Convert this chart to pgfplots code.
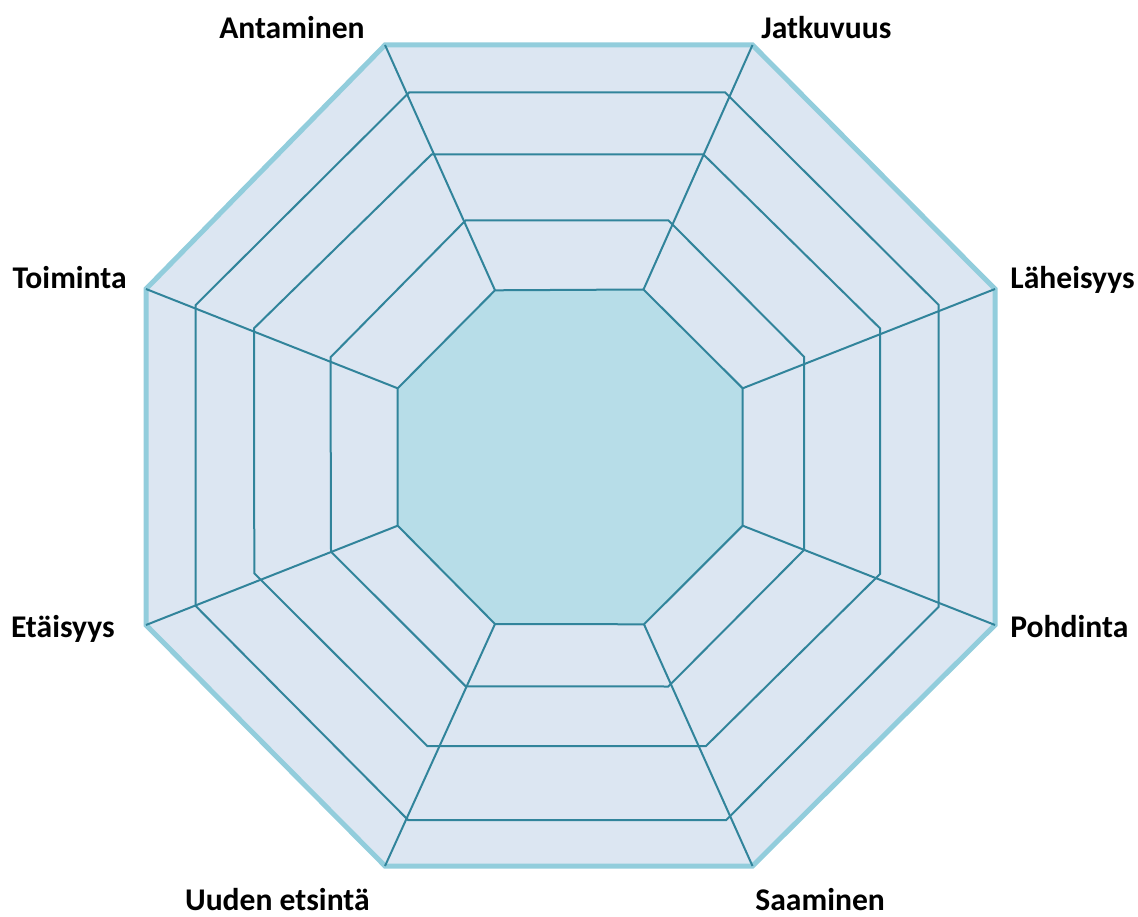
\documentclass[border=0pt]{standalone}
\usepackage{pgfplots}
\pgfplotsset{compat=1.18}
\usepackage{fontspec}
\setmainfont{Carlito}
\definecolor{outerfill}{HTML}{DCE6F2}
\definecolor{outerline}{HTML}{92CDDC}
\definecolor{innerfill}{HTML}{B7DDE8}
\definecolor{gridc}{HTML}{31849B}
\tikzset{lbl/.style={font=\bfseries\fontsize{15.8}{18}\selectfont, inner sep=0pt}}
\begin{document}
\begin{tikzpicture}
\begin{axis}[scale only axis, width=569pt, height=458pt,
  xmin=0, xmax=1138, ymin=-916, ymax=0, hide axis, clip=false,
  every axis plot/.append style={mark=none}]
\path (axis cs:0,0) -- (axis cs:1138,-916);
% outer octagon
\addplot[fill=outerfill, draw=outerline, line width=2.5pt, line join=miter] coordinates {
 (385,-45) (752.5,-45) (995,-289) (995,-625) (752.5,-866) (385,-866) (146,-625) (146,-289)} --cycle;
% inner filled octagon
\addplot[fill=innerfill, draw=gridc, line width=1pt, line join=miter] coordinates {
 (495,-290.3) (643.5,-289.5) (742.7,-388.3) (742.7,-525.7) (644,-624.3) (495,-624) (397.7,-525.7) (397.7,-388.3)} --cycle;
% ring 1
\addplot[draw=gridc, line width=1pt, line join=miter] coordinates {
 (409.3,-92.3) (725,-92.3) (938.7,-305) (938.7,-606.7) (726,-820.2) (408.3,-820.2) (195.7,-606) (195.7,-305)} --cycle;
% ring 2
\addplot[draw=gridc, line width=1pt, line join=miter] coordinates {
 (431.7,-154.3) (703.3,-154.3) (880,-328.3) (880,-574) (706,-746) (427.3,-746) (254.3,-573.3) (254,-328.3)} --cycle;
% ring 3
\addplot[draw=gridc, line width=1pt, line join=miter] coordinates {
 (465.7,-220.3) (668.3,-220.3) (804,-356.7) (804,-550) (668.3,-686.5) (465.7,-686.3) (331,-551.7) (330.5,-357.3)} --cycle;
% spokes
\addplot[draw=gridc, line width=1pt] coordinates {(495,-290.3) (385,-45)};
\addplot[draw=gridc, line width=1pt] coordinates {(643.5,-289.5) (752.5,-45)};
\addplot[draw=gridc, line width=1pt] coordinates {(742.7,-388.3) (995,-289)};
\addplot[draw=gridc, line width=1pt] coordinates {(742.7,-525.7) (995,-625)};
\addplot[draw=gridc, line width=1pt] coordinates {(644,-624.3) (752.5,-866)};
\addplot[draw=gridc, line width=1pt] coordinates {(495,-624) (385,-866)};
\addplot[draw=gridc, line width=1pt] coordinates {(397.7,-525.7) (146,-625)};
\addplot[draw=gridc, line width=1pt] coordinates {(397.7,-388.3) (146,-289)};
% labels
\node[lbl, anchor=base east] at (axis cs:365,-39) {Antaminen};
\node[lbl, anchor=base west] at (axis cs:761,-39) {Jatkuvuus};
\node[lbl, anchor=base east] at (axis cs:127,-289) {Toiminta};
\node[lbl, anchor=base west] at (axis cs:1010,-289) {Läheisyys};
\node[lbl, anchor=base east] at (axis cs:115,-637) {Etäisyys};
\node[lbl, anchor=base west] at (axis cs:1010,-637) {Pohdinta};
\node[lbl, anchor=base east] at (axis cs:370,-910) {Uuden etsintä};
\node[lbl, anchor=base west] at (axis cs:755,-910) {Saaminen};
\end{axis}
\end{tikzpicture}
\end{document}
